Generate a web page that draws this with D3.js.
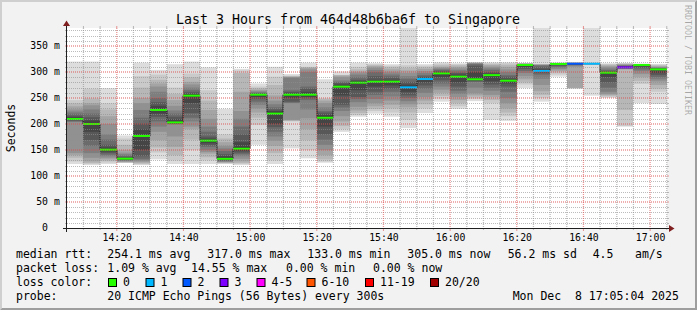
<!DOCTYPE html>
<html><head><meta charset="utf-8">
<script src="https://cdn.jsdelivr.net/npm/d3@7"></script>
<style>
html,body{margin:0;padding:0;background:#f2f2f2;}
svg{display:block;}
text{font-family:"DejaVu Sans Mono",monospace;white-space:pre;}
</style></head><body><svg id="c" width="697" height="310"></svg>
<script>
const title = "Last 3 Hours from 464d48b6ba6f to Singapore";
const yLabel = "Seconds";
const watermark = "RRDTOOL / TOBI OETIKER";
const day = "2025-12-08";
const windowStart = "14:05:04", windowEnd = "17:05:04";
const yMax = 384.615;
const barStarts = ["14:05","14:10","14:15","14:20","14:25","14:30","14:35","14:40","14:45","14:50","14:55","15:00",
  "15:05","15:10","15:15","15:20","15:25","15:30","15:35","15:40","15:45","15:50","15:55","16:00",
  "16:05","16:10","16:15","16:20","16:25","16:30","16:35","16:40","16:45","16:50","16:55","17:00"];
const medians = [209.6,200,150.6,133.3,177,227,203,254.5,168,133,152.5,256.4,220,256.4,256.4,212,271.8,279.5,
  281.4,281.4,270.5,286.5,297.4,291,286,294,283.3,313.5,302,315.4,316,316,298.7,309,313.5,305.1];
const losses = [0,0,0,0,0,0,0,0,0,0,0,0,0,0,0,0,0,0,0,0,1,1,0,0,0,0,0,0,1,0,2,1,0,3,0,0];
// 20 sorted ping round-trip times (ms) per 5-minute step; 420 = off the top of the chart
const pings = [
  [123,128,135,140,144,204,205,206.5,208,209,210.5,213,216,220,224,228,234,240,246,320],
  [121,123,125,128,135,144,158,169,185,199,201,207,213,220,228,236,240,249,268,320],
  [123,126,129,132,135,138,141,144,147,150,152,155,160,170,180,200,215,228,240,269],
  [125,125.5,126,127,128,129,130,131,132,133,134,135,137,139,142,145,150,160,172,178],
  [121,122.5,124,126,128,130,133,138,150,176,178,190,201,212,227,240,250,270,292,318],
  [132,145,155,169,185,195,205,214,220,225,229,235,242,250,262,272,278,285,295,304],
  [123,130,140,156,176,199,200,200.5,201,202,204,209,214,220,226,235,246,258,270,315],
  [123,150,170,190,195,205,212,221,240,253,256,258,261,265,270,276,281,290,297,320],
  [123,130,136,143,146,150,156,159,163,167,169,172,176,185,195,210,227,245,265,309],
  [123,124,125,126,127,128,129,130,131,133,135,138,142,148,153,158,165,172,180,229],
  [121,123,125,128,133,138,142,145,148,151,155,165,180,195,210,225,262,298,303,306],
  [160,198,212,222,230,237,243,248,252,255,257,258,259,260,262,264,266,269,272,278],
  [123,130,144,158,168,176,185,194,200,218,222,225,228,232,238,245,255,275,291,310],
  [153,205,206,207,208,240,241,243,250,255,257,260,262,265,289,290,291,292,293,296],
  [134,150,169,190,211,228,246,249,252,255,258,262,268,272,300,305,308,309,310,318],
  [125.6,128,132,140,150,160,170,180,195,210,214,218,222,225,232,240,245,248,250,286],
  [185,190,196,205,215,225,232,237,255,271,273,276,279,281,284,290,293,294,294.5,301],
  [214,217,221,226,233,242,248,252,265,278,281,283,285,290,295,299,301,305,310,318],
  [220,225,229,234,240,248,256,262,272,281,282,285,292,300,304,308,311,313,315,317],
  [214,222,230,237,245,253,262,268,274,281,282,285,289,293,297,300.6,305,309,312,315],
  [192,208,222,232,238,244,250,255,262,269,272,276,281,287,292,298,303,308,313,420],
  [221,230,238,245,252,260,268,274,280,286,287,289,291,294,298,302,306,309,312,315],
  [243,249,254,260,266,272,278,284,290,296.5,298.3,300,302,304,306,308,310,313,316,318.6],
  [229,234,240,246,252,258,264,272,280,290,292,295,298,301,304,307,310,313,315,316.7],
  [244,248,251,255,259,270,281,282,284,285,287,300,312,315,316,317,317.5,318,318.3,318.6],
  [208,240,246,252,256,264,270,276,282,293.5,294.5,297,300,304,307,310,313,315,317,318.6],
  [206,215,222,230,240,250,262,272,278,282.5,284,287,291,294,300,305,310,314,317,318.6],
  [269,276,280,286,292,298,302,306,310,313.2,313.8,314.2,314.6,315,315.4,315.8,316.1,316.3,316.5,316.7],
  [243,250,256,263,275,287,295,298,300,301.5,302.5,305,309,312,313.5,314,314.3,314.5,314.7,420],
  [291,295,299,302,305,307,310,312,314,315.2,315.6,315.8,316,316.3,316.6,316.9,317.2,317.5,317.7,318],
  [268,268.5,269,269.5,310,312,313.5,314.5,315.2,315.8,316.2,316.5,316.8,317,317.2,317.4,317.6,317.8,318,318.5],
  [254.5,314,314.5,315,315.2,315.4,315.6,315.7,315.8,315.9,316.1,316.2,316.3,316.4,316.5,316.6,316.7,316.8,317,420],
  [250,252,254,256,258,262,270,280,290,298.3,299.2,300.5,302,304,307,310,312,314,315.5,316.7],
  [195,196,227,305,306,306.5,307,307.5,308,308.5,309.5,310,311,312,313,314,315,316,316.5,317],
  [240,277,283,290,296,302,305,308,311,313.3,313.7,313.9,314.1,314.3,314.6,314.8,315,315.2,315.5,316],
  [238.5,262,268,275,282,286,290,294,298,304.8,305.5,306,306.8,307.5,308.5,309.5,311,312.5,314,315.5]
];
const yTicks = [0,50,100,150,200,250,300,350];
const xTickLabels = ["14:20","14:40","15:00","15:20","15:40","16:00","16:20","16:40","17:00"];
const lossLabels = ["0","1","2","3","4-5","6-10","11-19","20/20"];
const lossColors = ["#26ff00","#00b8ff","#0059ff","#7e00ff","#ff00ff","#ff5500","#ff0000","#a10000"];
const lossMin = [0,1,2,3,4,6,11,20];
const legendRow1 = [["median rtt:",16],["254.1 ms avg",107.3],["317.0 ms max",207.3],["133.0 ms min",307.3],["305.0 ms now",407.3],["56.2 ms sd",507.7],["4.5",592.7],["am/s",635]];
const legendRow2 = [["packet loss:",16],["1.09 % avg",107.3],["14.55 % max",191],["0.00 % min",286],["0.00 % now",373]];
const legendRow4 = [["probe:",16],["20 ICMP Echo Pings (56 Bytes) every 300s",107.3],["Mon Dec  8 17:05:04 2025",512.7]];
const lossBoxX = [108,145.5,182.5,219.5,256.5,306.5,365,430];

const W=697,H=310, L=67, R=667, T=28, B=228;
const svg = d3.select("#c");
svg.append("rect").attr("width",W).attr("height",H).attr("fill","#f2f2f2");
svg.append("path").attr("d","M0,0L697,0L695,2L2,2L2,308L0,310Z").attr("fill","#cfcfcf");
svg.append("path").attr("d","M697,0L697,310L0,310L2,308L695,308L695,2Z").attr("fill","#9e9e9e");
svg.append("rect").attr("x",L).attr("y",T).attr("width",R-L).attr("height",B-T).attr("fill","#fff");
svg.append("defs").append("clipPath").attr("id","clip").append("rect").attr("x",L).attr("y",T).attr("width",R-L).attr("height",B-T);

const pT = s => d3.timeParse("%Y-%m-%d %H:%M:%S")(day+" "+s);
const pM = s => d3.timeParse("%Y-%m-%d %H:%M")(day+" "+s);
const x = d3.scaleTime().domain([pT(windowStart), pT(windowEnd)]).range([L,R]);
const y = d3.scaleLinear().domain([0,yMax]).range([B,T]);
const starts = barStarts.map(pM);
const xa = starts.map(s=>Math.round(x(s)));
const xb = starts.map(s=>Math.round(x(d3.timeMinute.offset(s,5))));

const gData = svg.append("g").attr("clip-path","url(#clip)");
pings.forEach((p,i)=>{
  for(let k=1;k<=10;k++){
    const lo=p[k-1], hi=p[20-k];
    const c=Math.floor(190/10*(10-k))+50;
    gData.append("rect").attr("x",xa[i]).attr("width",xb[i]-xa[i])
      .attr("y",y(hi)).attr("height",Math.max(0,y(lo)-y(hi))).attr("fill",d3.rgb(c,c,c).formatHex());
  }
});
const stepPts = medians.map((m,i)=>[xa[i],y(m)]);
stepPts.push([xb[xb.length-1], y(medians[medians.length-1])]);
gData.append("path").attr("d",d3.line().curve(d3.curveStepAfter)(stepPts))
  .attr("fill","none").attr("stroke","#202020").attr("stroke-width",1);
medians.forEach((m,i)=>{
  let ci=0; lossMin.forEach((v,j)=>{ if(losses[i]>=v) ci=j; });
  gData.append("rect").attr("x",xa[i]).attr("width",xb[i]-xa[i]).attr("y",y(m)-1).attr("height",2).attr("fill",lossColors[ci]);
});

// grid on top
const gGrid = svg.append("g");
const gridC="rgba(143,143,143,0.6)", mgridC="rgba(222,79,79,0.6)";
d3.range(10, yMax, 10).forEach(v=>{
  const major=(v%50===0), c=major?mgridC:gridC;
  const yy = major ? Math.round(y(v)) : Math.round(y(v))+0.5;
  const ln = gGrid.append("line").attr("x1",L).attr("x2",R).attr("y1",yy).attr("y2",yy).attr("stroke",c).attr("stroke-dasharray","1,1");
  if(major) ln.attr("stroke-width",1.3); else ln.attr("shape-rendering","crispEdges");
  gGrid.append("line").attr("x1",L-2).attr("x2",L).attr("y1",yy).attr("y2",yy).attr("stroke",c);
  gGrid.append("line").attr("x1",R).attr("x2",R+2).attr("y1",yy).attr("y2",yy).attr("stroke",c);
});
// vertical grid at every 5-minute step boundary, stronger every 20 minutes
const gridTimes = starts.slice(1).concat([d3.timeMinute.offset(starts[starts.length-1],5)]);
gridTimes.forEach(t=>{
  const xx=x(t); if(xx>R+1) return;
  const minuteOfDay = t.getHours()*60 + t.getMinutes();
  const major=(minuteOfDay%20===0), c=major?mgridC:gridC;
  gGrid.append("line").attr("x1",xx).attr("x2",xx).attr("y1",T).attr("y2",B).attr("stroke",c).attr("stroke-width",1.3).attr("stroke-dasharray","1,1");
  gGrid.append("line").attr("x1",xx).attr("x2",xx).attr("y1",T-2).attr("y2",T).attr("stroke",c);
  gGrid.append("line").attr("x1",xx).attr("x2",xx).attr("y1",B).attr("y2",B+(major?3:2)).attr("stroke",c);
});

// axes
const axC="#1f1f1f", arC="#801f1f";
svg.append("line").attr("x1",L-4).attr("x2",R+4).attr("y1",B+0.5).attr("y2",B+0.5).attr("stroke",axC).attr("shape-rendering","crispEdges");
svg.append("line").attr("x1",L-0.5).attr("x2",L-0.5).attr("y1",B+4).attr("y2",T-4).attr("stroke",axC).attr("shape-rendering","crispEdges");
svg.append("path").attr("d",`M${R+2},${B-3}L${R+2},${B+4}L${R+7.5},${B+0.5}Z`).attr("fill",arC);
svg.append("path").attr("d",`M${L-4},${T-2}L${L+3},${T-2}L${L-0.5},${T-7.5}Z`).attr("fill",arC);

// labels
svg.append("text").attr("x",348).attr("y",24).attr("text-anchor","middle").attr("font-size","13.3px").attr("fill","#000").text(title);
svg.append("text").attr("transform","translate(15,128) rotate(-90)").attr("text-anchor","middle").attr("font-size","11.5px").attr("fill","#000").text(yLabel);
svg.append("text").attr("transform","translate(685,5) rotate(90)").attr("font-size","8.3px").attr("fill","#000").attr("fill-opacity",0.32).text(watermark);
yTicks.forEach(v=>{
  const yy=y(v)+3.3;
  svg.append("text").attr("x",48).attr("y",yy).attr("text-anchor","end").attr("font-size","9.8px").attr("fill","#000").text(String(v));
  if(v!==0) svg.append("text").attr("x",54).attr("y",yy).attr("font-size","9.8px").attr("fill","#000").text("m");
});
const xAxis = d3.axisBottom(x).tickValues(xTickLabels.map(pM))
  .tickFormat(d3.timeFormat("%H:%M")).tickSize(0).tickPadding(0);
const gx = svg.append("g").attr("transform",`translate(0,${B})`).call(xAxis);
gx.select(".domain").remove();
gx.selectAll("line").remove();
gx.selectAll("text").attr("font-family","DejaVu Sans Mono").attr("font-size","9.8px").attr("fill","#000").attr("dy",null).attr("y",13);

const leg = svg.append("g").attr("font-size","11.5px").attr("fill","#000");
legendRow1.forEach(([t,xx])=>leg.append("text").attr("x",xx).attr("y",258.3).text(t));
legendRow2.forEach(([t,xx])=>leg.append("text").attr("x",xx).attr("y",272.3).text(t));
leg.append("text").attr("x",16).attr("y",286.3).text("loss color:");
lossLabels.forEach((t,i)=>{
  svg.append("rect").attr("x",lossBoxX[i]+0.5).attr("y",278.5).attr("width",8).attr("height",8).attr("fill",lossColors[i]).attr("stroke","#000").attr("stroke-width",1);
  leg.append("text").attr("x",lossBoxX[i]+15).attr("y",286.3).text(t);
});
legendRow4.forEach(([t,xx])=>leg.append("text").attr("x",xx).attr("y",300.3).text(t));
</script></body></html>
